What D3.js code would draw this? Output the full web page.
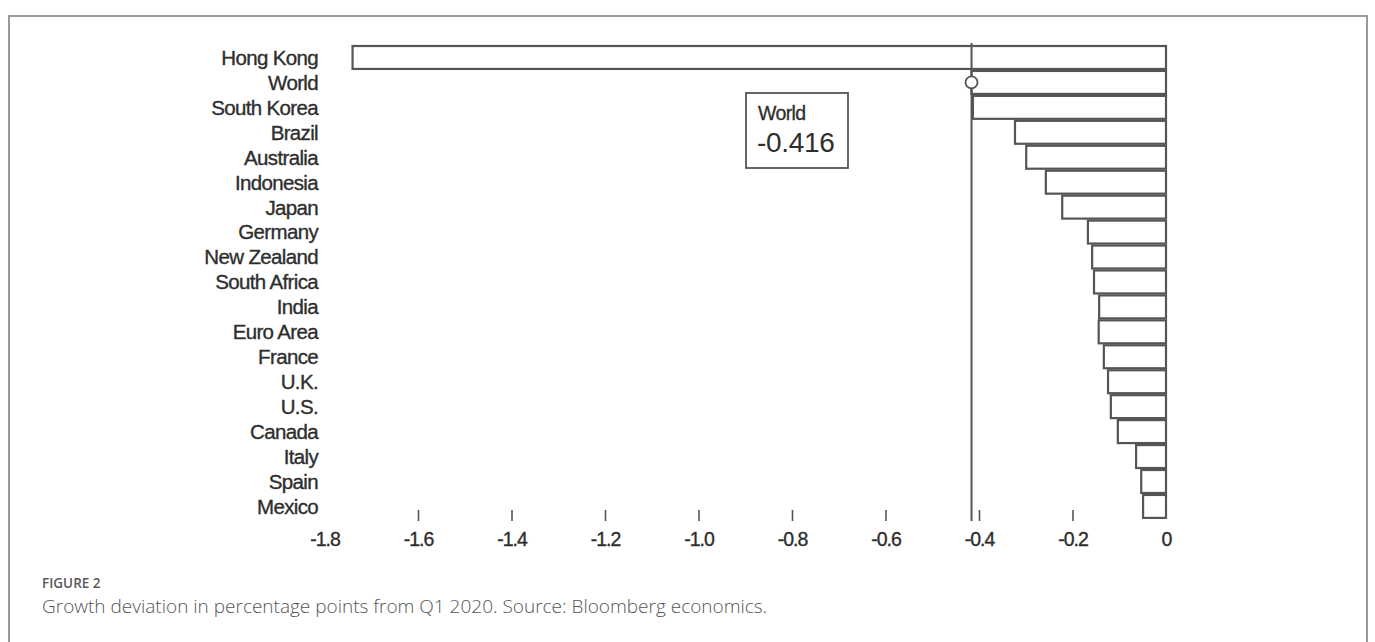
<!DOCTYPE html>
<html>
<head>
<meta charset="utf-8">
<script src="https://cdn.jsdelivr.net/npm/d3@7"></script>
<style>
  html, body { margin: 0; padding: 0; background: #fff; }
  svg { display: block; }
</style>
</head>
<body>
<svg id="chart" width="1375" height="642"></svg>
<script>
// Growth deviation (percentage points) from Q1 2020, by economy
const countries = [
  "Hong Kong", "World", "South Korea", "Brazil", "Australia", "Indonesia",
  "Japan", "Germany", "New Zealand", "South Africa", "India", "Euro Area",
  "France", "U.K.", "U.S.", "Canada", "Italy", "Spain", "Mexico"
];
const deviation = [
  -1.74, -0.416, -0.413, -0.323, -0.299, -0.257,
  -0.222, -0.167, -0.158, -0.154, -0.143, -0.144,
  -0.133, -0.124, -0.118, -0.103, -0.064, -0.053, -0.049
];
const tickValues = [-1.8, -1.6, -1.4, -1.2, -1.0, -0.8, -0.6, -0.4, -0.2, 0];
const tickLabels = ["-1.8", "-1.6", "-1.4", "-1.2", "-1.0", "-0.8", "-0.6", "-0.4", "-0.2", "0"];
const highlightName = "World";
const highlightValue = -0.416;
const figureLabel = "FIGURE 2";
const captionText = "Growth deviation in percentage points from Q1 2020. Source: Bloomberg economics.";

const data = countries.map((c, i) => ({ name: c, value: deviation[i] }));

const svg = d3.select("#chart");

// outer frame of the figure panel
svg.append("path")
  .attr("d", "M9,660 V16 H1367 V660")
  .attr("fill", "none")
  .attr("stroke", "#9a9a9a")
  .attr("stroke-width", 2);

const x = d3.scaleLinear().domain([-1.8, 0]).range([324.5, 1166]);
const y = d3.scaleBand().domain(countries).range([45, 518.9])
  .paddingInner(0.08).paddingOuter(0.04);

const ink = "#555";
const textInk = "#2e2e2e";
const labelFont = "Liberation Sans, Arial, sans-serif";
// hyphen-minus, as printed on the chart
const fmt = v => d3.format(".3f")(v).replace("\u2212", "-");

// bars
svg.append("g").selectAll("rect")
  .data(data)
  .join("rect")
  .attr("x", d => x(d.value))
  .attr("y", d => y(d.name))
  .attr("width", d => x(0) - x(d.value))
  .attr("height", y.bandwidth())
  .attr("fill", "#fff")
  .attr("stroke", ink)
  .attr("stroke-width", 2.2);

// category labels
svg.append("g").selectAll("text")
  .data(data)
  .join("text")
  .attr("x", 318)
  .attr("y", d => y(d.name) + y.bandwidth() / 2)
  .attr("dy", "0.36em")
  .attr("text-anchor", "end")
  .attr("font-family", labelFont)
  .attr("font-size", 20.5)
  .attr("letter-spacing", -0.65)
  .attr("fill", textInk)
  .attr("stroke", textInk)
  .attr("stroke-width", 0.35)
  .text(d => d.name);

// x axis: short tick marks and labels, no baseline
const axis = d3.axisBottom(x)
  .tickValues(tickValues)
  .tickFormat((d, i) => tickLabels[i])
  .tickSizeInner(11)
  .tickSizeOuter(0)
  .tickPadding(11);

const gx = svg.append("g")
  .attr("transform", "translate(0,510)")
  .call(axis);
gx.select(".domain").remove();
gx.selectAll(".tick line")
  .attr("stroke", ink)
  .attr("stroke-width", 1.6)
  .attr("display", d => (d === -1.8 || d === 0) ? "none" : null);
gx.selectAll(".tick text")
  .attr("font-family", labelFont)
  .attr("font-size", 19.5)
  .attr("letter-spacing", -1)
  .attr("fill", textInk)
  .attr("stroke", textInk)
  .attr("stroke-width", 0.35);

// reference line at the world value
const hx = x(highlightValue);
svg.append("line")
  .attr("x1", hx).attr("x2", hx)
  .attr("y1", 43).attr("y2", 521)
  .attr("stroke", ink)
  .attr("stroke-width", 2);

svg.append("circle")
  .attr("cx", hx)
  .attr("cy", y(highlightName) + y.bandwidth() / 2)
  .attr("r", 6)
  .attr("fill", "#fff")
  .attr("stroke", ink)
  .attr("stroke-width", 1.8);

// value callout box
const box = svg.append("g").attr("transform", "translate(746,93)");
box.append("rect")
  .attr("width", 102).attr("height", 75)
  .attr("fill", "#fff")
  .attr("stroke", ink)
  .attr("stroke-width", 1.8);
box.append("text")
  .attr("x", 12).attr("y", 27)
  .attr("font-family", labelFont)
  .attr("font-size", 19.5)
  .attr("letter-spacing", -0.6)
  .attr("fill", textInk)
  .attr("stroke", textInk)
  .attr("stroke-width", 0.3)
  .text(highlightName);
box.append("text")
  .attr("x", 11).attr("y", 59)
  .attr("font-family", labelFont)
  .attr("font-size", 28)
  .attr("letter-spacing", -0.3)
  .attr("fill", textInk)
  .text(fmt(highlightValue));

// figure caption
svg.append("text")
  .attr("x", 42).attr("y", 588)
  .attr("font-family", "Open Sans, sans-serif")
  .attr("font-size", 13.5)
  .attr("font-weight", 600)
  .attr("fill", "#5a5a5a")
  .text(figureLabel);
svg.append("text")
  .attr("x", 42).attr("y", 613)
  .attr("font-family", "Open Sans, sans-serif")
  .attr("font-size", 19)
  .attr("font-weight", 300)
  .attr("fill", "#555")
  .text(captionText);
</script>
</body>
</html>
